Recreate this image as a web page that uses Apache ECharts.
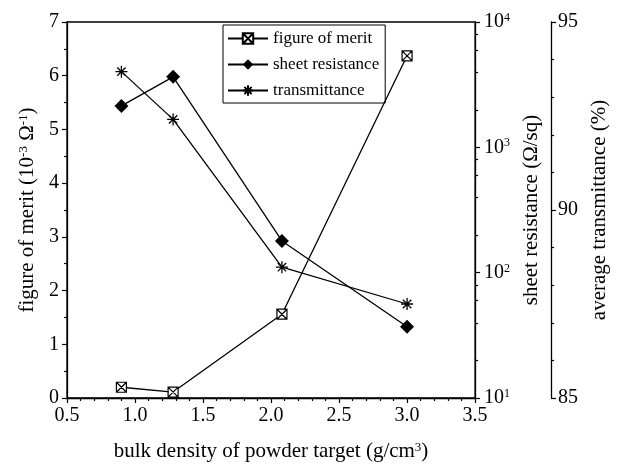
<!DOCTYPE html>
<html>
<head>
<meta charset="utf-8">
<script src="https://cdn.jsdelivr.net/npm/echarts@6/dist/echarts.min.js"></script>
<style>
  html, body { margin: 0; padding: 0; background: #fff; }
  #chart { width: 618px; height: 472px; }
</style>
</head>
<body>
<div id="chart"></div>
<script>
// Bulk density of the powder target (g/cm3)
const density = [0.9, 1.28, 2.08, 3.0];
// Figure of merit (10^-3 Ohm^-1)
const meritValues = [0.2, 0.11, 1.56, 6.37];
// Sheet resistance (Ohm/sq), log scale
const resistanceValues = [2140, 3650, 179, 37];
// Average transmittance (%)
const transmittanceValues = [93.68, 92.41, 88.48, 87.5];
// Minor ticks of the log axis (2, 4, 6, 8 of each decade)
const logMinorTicks = [20, 40, 60, 80, 200, 400, 600, 800, 2000, 4000, 6000, 8000];

const FONT = 'Liberation Serif';
const BLACK = '#000';

const pair = (xs, ys) => xs.map((x, i) => [x, ys[i]]);

// Square with a cross inside, asterisk
const boxedCross = 'path://M0,0L10,0L10,10L0,10ZM0,0L10,10M10,0L0,10';
const asterisk = 'path://M5,0L5,10M0,5L10,5M1.5,1.5L8.5,8.5M8.5,1.5L1.5,8.5';

const richBase = {
  n: { fontFamily: FONT, fontSize: 21, color: BLACK },
  s: { fontFamily: FONT, fontSize: 13, color: BLACK, verticalAlign: 'top', lineHeight: 14 }
};
const tickRich = {
  b: { fontFamily: FONT, fontSize: 20, color: BLACK },
  s: { fontFamily: FONT, fontSize: 12, color: BLACK, verticalAlign: 'top', lineHeight: 12 }
};

const axisLine = { show: true, lineStyle: { color: BLACK, width: 1.3 } };
const tickStyle = { show: true, length: 5, lineStyle: { color: BLACK, width: 1.2 } };
const minorStyle = { show: true, length: 3, lineStyle: { color: BLACK, width: 1.2 } };
const labelStyle = { color: BLACK, fontFamily: FONT, fontSize: 20 };

const chart = echarts.init(document.getElementById('chart'));
chart.setOption({
  backgroundColor: '#fff',
  animation: false,
  grid: {
    left: 67, right: 135, top: 22, bottom: 74,
    show: true, borderColor: BLACK, borderWidth: 1.3
  },
  legend: {
    orient: 'vertical',
    left: 223, top: 25,
    padding: [5, 6, 4, 4],
    borderColor: BLACK, borderWidth: 1,
    itemWidth: 40, itemHeight: 13, itemGap: 9,
    textStyle: { fontFamily: FONT, fontSize: 17, color: BLACK },
    data: ['figure of merit', 'sheet resistance', 'transmittance']
  },
  xAxis: {
    type: 'value', min: 0.5, max: 3.5, interval: 0.5,
    axisLine: axisLine,
    axisTick: tickStyle,
    minorTick: Object.assign({ splitNumber: 5 }, minorStyle),
    splitLine: { show: false },
    axisLabel: Object.assign({ margin: 8, formatter: v => v.toFixed(1) }, labelStyle),
    name: '{n|bulk density of powder target (g/cm}{s|3}{n|)}',
    nameLocation: 'middle', nameGap: 43,
    nameTextStyle: { rich: richBase }
  },
  yAxis: [
    {
      type: 'value', min: 0, max: 7, interval: 1, position: 'left',
      axisLine: axisLine,
      axisTick: tickStyle,
      minorTick: Object.assign({ splitNumber: 2 }, minorStyle),
      splitLine: { show: false },
      axisLabel: Object.assign({ margin: 8 }, labelStyle),
      name: '{n|figure of merit (10}{s|-3}{n| Ω}{s|-1}{n|)}',
      nameLocation: 'middle', nameRotate: 90, nameGap: 28,
      nameTextStyle: { rich: richBase }
    },
    {
      type: 'log', logBase: 10, min: 10, max: 10000, position: 'right',
      axisLine: axisLine,
      axisTick: tickStyle,
      splitLine: { show: false },
      axisLabel: {
        margin: 9,
        formatter: v => '{b|10}{s|' + Math.round(Math.log10(v)) + '}',
        rich: tickRich
      },
      name: '{n|sheet resistance (Ω/sq)}',
      nameLocation: 'middle', nameRotate: 90, nameGap: 30,
      nameTextStyle: { rich: richBase }
    },
    {
      type: 'value', min: 85, max: 95, interval: 5, position: 'right', offset: 76,
      axisLine: axisLine,
      axisTick: tickStyle,
      minorTick: Object.assign({ splitNumber: 5 }, minorStyle),
      splitLine: { show: false },
      axisLabel: Object.assign({ margin: 7 }, labelStyle),
      name: '{n|average transmittance (%)}',
      nameLocation: 'middle', nameRotate: 90, nameGap: 31,
      nameTextStyle: { rich: richBase }
    }
  ],
  series: [
    {
      name: 'figure of merit', type: 'line', yAxisIndex: 0,
      data: pair(density, meritValues),
      symbol: boxedCross, symbolSize: 10,
      itemStyle: { color: '#fff', borderColor: BLACK, borderWidth: 1.2 },
      lineStyle: { color: BLACK, width: 1.3 }
    },
    {
      name: 'sheet resistance', type: 'line', yAxisIndex: 1,
      data: pair(density, resistanceValues),
      symbol: 'diamond', symbolSize: 14,
      itemStyle: { color: BLACK, borderColor: BLACK, borderWidth: 0 },
      lineStyle: { color: BLACK, width: 1.3 }
    },
    {
      name: 'transmittance', type: 'line', yAxisIndex: 2,
      data: pair(density, transmittanceValues),
      symbol: asterisk, symbolSize: 12,
      itemStyle: { color: 'none', borderColor: BLACK, borderWidth: 1.3 },
      lineStyle: { color: BLACK, width: 1.3 }
    }
  ]
});

// Minor ticks on the logarithmic axis, placed through the axis scale
function drawLogMinorTicks() {
  const xRight = chart.convertToPixel({ xAxisIndex: 0 }, 3.5);
  const ticks = logMinorTicks.map(v => {
    const y = Math.round(chart.convertToPixel({ yAxisIndex: 1 }, v)) + 0.5;
    return {
      type: 'line',
      silent: true,
      shape: { x1: xRight, y1: y, x2: xRight + 3, y2: y },
      style: { stroke: BLACK, lineWidth: 1.2 }
    };
  });
  chart.setOption({ graphic: [{ type: 'group', id: 'logMinor', children: ticks }] });
}
drawLogMinorTicks();
</script>
</body>
</html>
